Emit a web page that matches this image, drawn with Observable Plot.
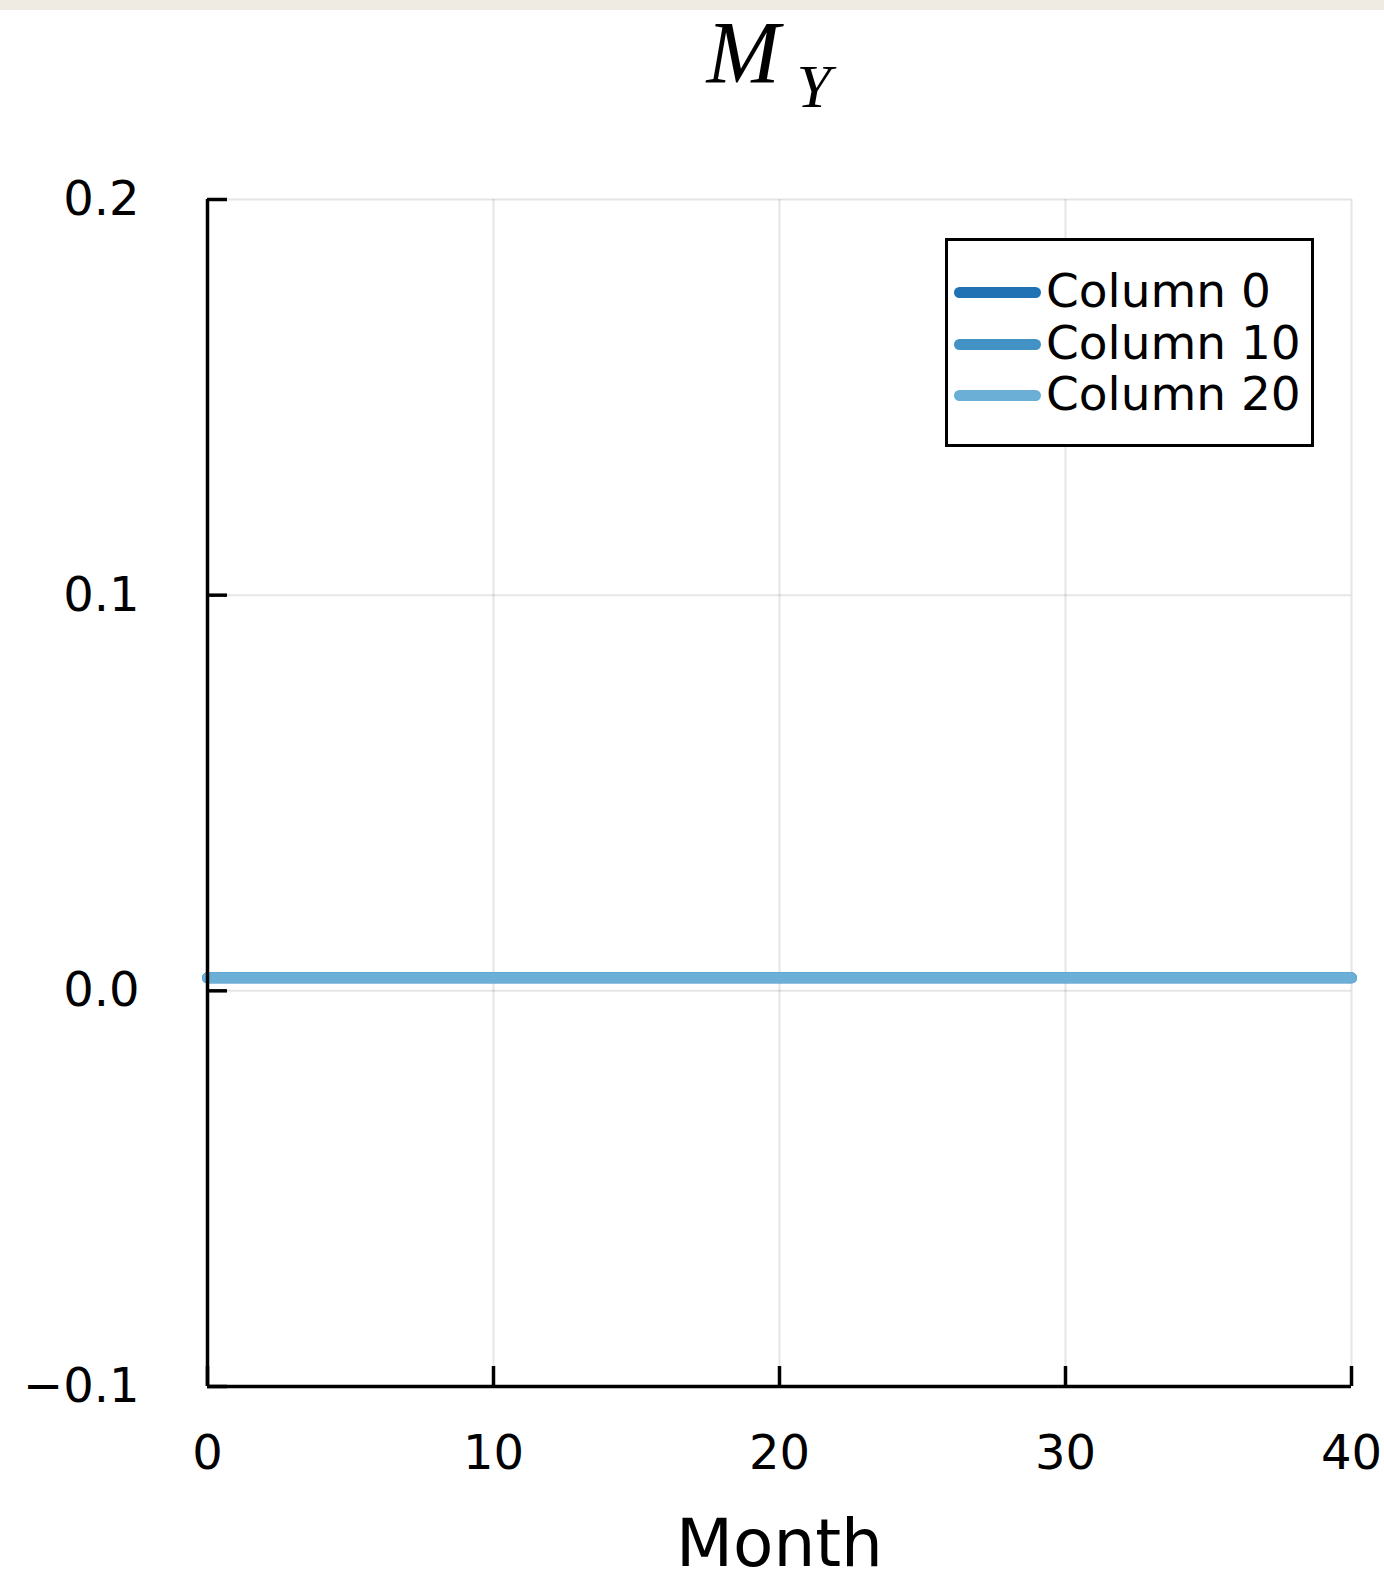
<!DOCTYPE html>
<html>
<head>
<meta charset="utf-8">
<script src="https://cdn.jsdelivr.net/npm/d3@7"></script>
<script src="https://cdn.jsdelivr.net/npm/@observablehq/plot@0.6"></script>
<style>
  html, body { margin: 0; padding: 0; background: white; }
  #wrap { position: relative; width: 1384px; height: 1575px; overflow: hidden; }
  #band { position: absolute; left: 0; top: 0; width: 1384px; height: 10px; background: #efebe2; z-index: 2; }
  #legend { position: absolute; left: 945px; top: 238px; width: 369px; height: 209px; box-sizing: border-box;
            border: 3px solid #000; background: #fff; z-index: 3; font-family: "DejaVu Sans", sans-serif; }
  .row { position: absolute; left: 0; height: 0; }
  .swatch { position: absolute; left: 6px; width: 87px; height: 11px; border-radius: 6px; margin-top: -5.5px; }
  .lab { position: absolute; left: 98px; font-size: 47px; line-height: 48px; top: -25px; white-space: nowrap; color: #000; }
</style>
</head>
<body>
<div id="wrap">
  <div id="band"></div>
  <div id="chart"></div>
  <div id="legend"></div>
</div>
<script>
// ---- data ----
const months = [0,1,2,3,4,5,6,7,8,9,10,11,12,13,14,15,16,17,18,19,20,21,22,23,24,25,26,27,28,29,30,31,32,33,34,35,36,37,38,39,40];
const seriesNames = ["Column 0", "Column 10", "Column 20"];
const seriesColors = ["#2171b5", "#4292c6", "#6baed6"];
const column0  = [0.0033,0.0033,0.0033,0.0033,0.0033,0.0033,0.0033,0.0033,0.0033,0.0033,0.0033,0.0033,0.0033,0.0033,0.0033,0.0033,0.0033,0.0033,0.0033,0.0033,0.0033,0.0033,0.0033,0.0033,0.0033,0.0033,0.0033,0.0033,0.0033,0.0033,0.0033,0.0033,0.0033,0.0033,0.0033,0.0033,0.0033,0.0033,0.0033,0.0033,0.0033];
const column10 = [0.0033,0.0033,0.0033,0.0033,0.0033,0.0033,0.0033,0.0033,0.0033,0.0033,0.0033,0.0033,0.0033,0.0033,0.0033,0.0033,0.0033,0.0033,0.0033,0.0033,0.0033,0.0033,0.0033,0.0033,0.0033,0.0033,0.0033,0.0033,0.0033,0.0033,0.0033,0.0033,0.0033,0.0033,0.0033,0.0033,0.0033,0.0033,0.0033,0.0033,0.0033];
const column20 = [0.0033,0.0033,0.0033,0.0033,0.0033,0.0033,0.0033,0.0033,0.0033,0.0033,0.0033,0.0033,0.0033,0.0033,0.0033,0.0033,0.0033,0.0033,0.0033,0.0033,0.0033,0.0033,0.0033,0.0033,0.0033,0.0033,0.0033,0.0033,0.0033,0.0033,0.0033,0.0033,0.0033,0.0033,0.0033,0.0033,0.0033,0.0033,0.0033,0.0033,0.0033];
const xTicks = [0, 10, 20, 30, 40];
const yTicks = [-0.1, 0.0, 0.1, 0.2];
const xLabel = "Month";
const titleMain = "M";
const titleSub = "Y";

// ---- build table ----
const seriesValues = [column0, column10, column20];
const table = [];
seriesNames.forEach((name, s) => months.forEach((m, i) => table.push({month: m, value: seriesValues[s][i], series: name})));

const W = 1384, H = 1575;
const mL = 207, mR = 33, mT = 199, mB = 189;
const fw = W - mL - mR, fh = H - mT - mB;
const tickLen = 20;

const chart = Plot.plot({
  width: W, height: H,
  marginLeft: mL, marginRight: mR, marginTop: mT, marginBottom: mB,
  x: {domain: [0, 40]},
  y: {domain: [-0.1, 0.2]},
  color: {domain: seriesNames, range: seriesColors},
  style: {fontFamily: "DejaVu Sans, sans-serif", background: "white", color: "black"},
  marks: [
    Plot.gridX(xTicks, {stroke: "#000", strokeOpacity: 0.1, strokeWidth: 2}),
    Plot.gridY(yTicks, {stroke: "#000", strokeOpacity: 0.1, strokeWidth: 2}),
    Plot.axisX(xTicks, {tickSize: 0, tickPadding: 48, fontSize: 48, label: null, tickFormat: d => String(d)}),
    Plot.axisY(yTicks, {tickSize: 0, tickPadding: 68, fontSize: 48, label: null, tickFormat: d3.format(".1f")}),
    Plot.line(table, {x: "month", y: "value", z: "series", stroke: "series", strokeWidth: 11, strokeLinecap: "round", strokeLinejoin: "round"}),
    Plot.ruleX([0], {stroke: "#000", strokeWidth: 3.5}),
    Plot.ruleY([-0.1], {stroke: "#000", strokeWidth: 3.5}),
    Plot.tickY(yTicks, {y: d => d, insetRight: fw - tickLen, stroke: "#000", strokeWidth: 3.5}),
    Plot.tickX(xTicks, {x: d => d, insetTop: fh - tickLen, stroke: "#000", strokeWidth: 3.5}),
    Plot.text([xLabel], {frameAnchor: "bottom", dy: 158, lineAnchor: "middle", fontSize: 66, fill: "#000"}),
    Plot.text([titleMain], {frameAnchor: "top", dx: -73, dy: -118, textAnchor: "start", lineAnchor: "bottom", fontSize: 88, fontStyle: "italic", fontFamily: "Liberation Serif, serif", fill: "#000"}),
    Plot.text([titleSub], {frameAnchor: "top", dx: 17, dy: -93, textAnchor: "start", lineAnchor: "bottom", fontSize: 62, fontStyle: "italic", fontFamily: "Liberation Serif, serif", fill: "#000"})
  ]
});
document.getElementById("chart").appendChild(chart);

// ---- legend ----
const legend = document.getElementById("legend");
const rowTops = [51, 103, 154];
seriesNames.forEach((name, i) => {
  const row = document.createElement("div");
  row.className = "row";
  row.style.top = rowTops[i] + "px";
  const sw = document.createElement("div");
  sw.className = "swatch";
  sw.style.background = seriesColors[i];
  const lab = document.createElement("div");
  lab.className = "lab";
  lab.textContent = name;
  row.appendChild(sw);
  row.appendChild(lab);
  legend.appendChild(row);
});
</script>
</body>
</html>
